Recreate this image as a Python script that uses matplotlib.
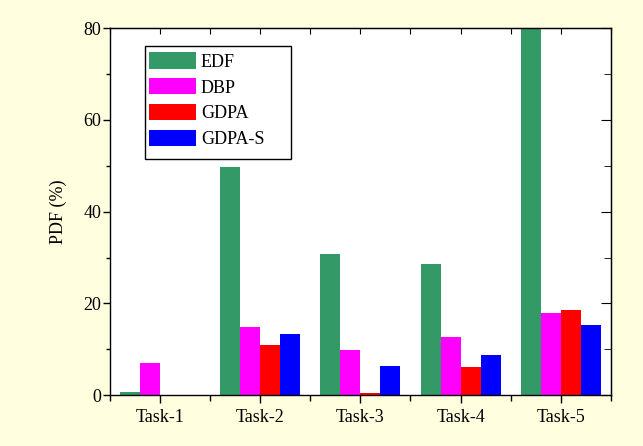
"""
Grouped bar chart of PDF (%) per task for four scheduling policies.
"""
import numpy
import matplotlib
matplotlib.use('Agg')
import matplotlib.pyplot as plt
from matplotlib.patches import Rectangle
from matplotlib.ticker import MultipleLocator

tasks = ['Task-1', 'Task-2', 'Task-3', 'Task-4', 'Task-5']
policies = ['EDF', 'DBP', 'GDPA', 'GDPA-S']
edf = [0.6, 49.8, 30.7, 28.6, 80.0]
dbp = [7.0, 14.8, 9.8, 12.6, 17.8]
gdpa = [0.0, 11.0, 0.5, 6.1, 18.5]
gdpa_s = [0.0, 13.4, 6.3, 8.8, 15.3]
colors = ['#339966', '#ff00ff', '#ff0000', '#0000ff']

plt.rcParams['font.family'] = ['Liberation Serif', 'DejaVu Serif']
plt.rcParams['font.size'] = 13

fig = plt.figure(figsize=(6.43, 4.46), dpi=100, facecolor='#ffffe0')
ax = fig.add_axes([0.171, 0.114, 0.779, 0.823])
ax.set_facecolor('white')

x = numpy.arange(1, len(tasks) + 1)
width = 0.2
series = [edf, dbp, gdpa, gdpa_s]
for i, (vals, name, c) in enumerate(zip(series, policies, colors)):
    offset = -0.4 + width * i
    ax.bar(x + offset, vals, width, align='edge', color=c, label=name,
           linewidth=0)

ax.set_xlim(0.5, 5.5)
ax.set_ylim(0, 80)
ax.set_xticks(x)
ax.set_xticklabels(tasks)
ax.xaxis.set_minor_locator(MultipleLocator(0.5))
ax.yaxis.set_major_locator(MultipleLocator(20))
ax.yaxis.set_minor_locator(MultipleLocator(10))
ax.set_ylabel('PDF (%)', labelpad=12)

ax.tick_params(which='both', direction='out', top=False, right=False,
               width=1.0, colors='black')
ax.tick_params(which='major', length=5, pad=1)
ax.tick_params(which='minor', length=3)
ax.tick_params(axis='x', which='major', length=6, pad=4)
ax.tick_params(axis='x', which='minor', length=4)
for s in ax.spines.values():
    s.set_linewidth(1.0)

# inward ticks on the opposite spines, no labels
top = ax.secondary_xaxis('top')
top.set_xticks(numpy.arange(0.5, 5.51, 0.5))
top.tick_params(direction='in', length=4, labeltop=False)
right = ax.secondary_yaxis('right')
right.yaxis.set_major_locator(MultipleLocator(20))
right.yaxis.set_minor_locator(MultipleLocator(10))
right.tick_params(which='major', direction='in', length=7, labelright=False)
right.tick_params(which='minor', direction='in', length=5)

# legend entries without frame, box drawn separately (wider on the right)
leg = ax.legend(loc='upper left', bbox_to_anchor=(0.066, 0.951),
                frameon=False, handlelength=2.6, handleheight=1.0,
                borderpad=0.35, labelspacing=0.42, handletextpad=0.25,
                borderaxespad=0)
box = Rectangle((0.070, 0.643), 0.291, 0.308, transform=ax.transAxes,
                facecolor='white', edgecolor='black', linewidth=1.0,
                zorder=4.9)
ax.add_patch(box)
leg.set_zorder(5)

fig.savefig('out.png', dpi=100, facecolor=fig.get_facecolor())
